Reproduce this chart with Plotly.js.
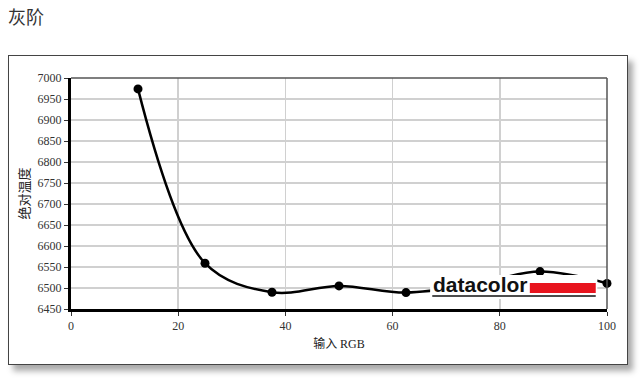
<!DOCTYPE html>
<html><head><meta charset="utf-8">
<script src="https://cdn.plot.ly/plotly-3.0.1.min.js"></script>
<style>
html,body{margin:0;padding:0;background:#fff;width:640px;height:379px;overflow:hidden;}
#frame{position:absolute;left:8px;top:55px;width:618px;height:308px;border:1.5px solid #444;background:#fff;box-shadow:5px 6px 6px #aaa;}
#chart{position:absolute;left:0;top:0;width:640px;height:379px;}
</style></head>
<body>
<div id="frame"></div>
<div id="chart"></div>
<script>
const inputRGB = [12.5, 25, 37.5, 50, 62.5, 75, 87.5, 100];
const cct = [6974, 6559, 6490, 6505, 6489, 6508, 6539, 6511];
const yTicks = [6450,6500,6550,6600,6650,6700,6750,6800,6850,6900,6950,7000];
const xTicks = [0,20,40,60,80,100];

const trace = {
  x: inputRGB, y: cct, type: 'scatter', mode: 'lines+markers', cliponaxis: false,
  line: {color: '#000', width: 2.5, shape: 'spline', smoothing: 1},
  marker: {color: '#000', size: 9},
  hoverinfo: 'skip'
};

const tickFont = {family: 'Liberation Serif, serif', size: 12, color: '#333'};
const layout = {
  width: 640, height: 379,
  margin: {l: 71, r: 33, t: 78, b: 70},
  paper_bgcolor: 'rgba(0,0,0,0)', plot_bgcolor: '#fff',
  showlegend: false,
  title: {text: '灰阶', x: 8/640, xanchor: 'left', xref: 'container', y: 1 - 18/379, yref: 'container', yanchor: 'middle',
          font: {family: 'Noto Sans CJK SC, sans-serif', size: 18, color: '#333'}},
  xaxis: {range: [0, 100], tickvals: xTicks, ticktext: xTicks.map(String), showgrid: true, gridcolor: '#d0d0d0', gridwidth: 1.5,
          zeroline: false, showline: true, linecolor: '#000', linewidth: 3, ticks: 'outside', ticklen: 4, tickcolor: '#333',
          tickfont: tickFont,
          title: {text: '输入 <span style="font-family:Liberation Serif">RGB</span>', standoff: 8, font: {family: 'Noto Sans CJK SC, sans-serif', size: 12, color: '#222'}}},
  yaxis: {range: [6450, 7000], tickvals: yTicks, ticktext: yTicks.map(String), showgrid: true, gridcolor: '#d0d0d0', gridwidth: 1.5,
          zeroline: false, showline: true, linecolor: '#000', linewidth: 3, ticks: 'outside', ticklen: 4, tickcolor: '#333',
          tickfont: tickFont,
          title: {text: '绝对温度', standoff: 6, font: {family: 'Noto Sans CJK SC, sans-serif', size: 13, color: '#222'}}},
  shapes: [
    {type: 'line', xref: 'paper', yref: 'paper', x0: 0, x1: 1, y0: 1, y1: 1, line: {color: '#555', width: 1.5}},
    {type: 'line', xref: 'paper', yref: 'paper', x0: 1, x1: 1, y0: 0, y1: 1, line: {color: '#555', width: 1.5}},
    // datacolor logo box
    {type: 'rect', xref: 'x', yref: 'y', x0: 67.0, x1: 98.2, y0: 6474, y1: 6531, fillcolor: '#fff', line: {width: 0}, layer: 'above'},
    {type: 'rect', xref: 'x', yref: 'y', x0: 85.6, x1: 97.9, y0: 6488, y1: 6512, fillcolor: '#e8141e', line: {width: 0}, layer: 'above'},
    {type: 'line', xref: 'x', yref: 'y', x0: 67.4, x1: 97.9, y0: 6481, y1: 6481, line: {color: '#111', width: 1.5}, layer: 'above'}
  ],
  annotations: [
    {text: '<b>datacolor</b>', xref: 'x', yref: 'y', x: 67.4, y: 6488, xanchor: 'left', yanchor: 'bottom', showarrow: false,
     font: {family: 'Liberation Sans, Arial, sans-serif', size: 21, color: '#111'}, borderpad: 0, yshift: -4}
  ]
};
Plotly.newPlot('chart', [trace], layout, {displayModeBar: false, staticPlot: true});
</script>
</body></html>
